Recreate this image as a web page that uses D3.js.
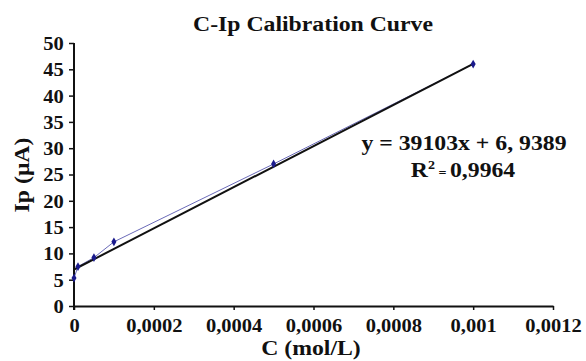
<!DOCTYPE html>
<html>
<head>
<meta charset="utf-8">
<script src="https://cdn.jsdelivr.net/npm/d3@7"></script>
<style>
  html, body { margin: 0; padding: 0; background: #fff; }
  svg { display: block; }
  text { font-family: "Liberation Serif", "Times New Roman", serif; font-weight: bold; fill: #111; }
</style>
</head>
<body>
<svg id="chart" width="586" height="361"></svg>
<script>
// Measured concentrations (mol/L) and peak currents (µA)
const concentrations = [0, 0.00001, 0.00005, 0.0001, 0.0005, 0.001];
const currents = [5.3, 7.5, 9.2, 12.2, 27.0, 46.0];

// Linear fit reported on the chart
const slope = 39103;
const intercept = 6.9389;
const fitRange = [0, 0.001];

const xTicks = [0, 0.0002, 0.0004, 0.0006, 0.0008, 0.001, 0.0012];
const xTickLabels = ["0", "0,0002", "0,0004", "0,0006", "0,0008", "0,001", "0,0012"];
const yTicks = [0, 5, 10, 15, 20, 25, 30, 35, 40, 45, 50];

const title = "C-Ip Calibration Curve";
const xTitle = "C (mol/L)";
const yTitle = "Ip (μA)";
const equationText = "y = 39103x + 6, 9389";
const r2Value = "0,9964";

const svg = d3.select("#chart");
const stretch = 1.08; // labels in this figure are set slightly wide
const tickFont = 19;
const labelFont = 22;

const x = d3.scaleLinear().domain([0, 0.0012]).range([74, 553]);
const y = d3.scaleLinear().domain([0, 50]).range([306, 43]);

// Axes
const xAxis = d3.axisBottom(x)
  .tickValues(xTicks)
  .tickFormat((d, i) => xTickLabels[i])
  .tickSizeInner(4).tickSizeOuter(0).tickPadding(8.5);
const yAxis = d3.axisLeft(y)
  .tickValues(yTicks)
  .tickSizeInner(5).tickSizeOuter(0).tickPadding(4.5);

const gx = svg.append("g").attr("transform", `translate(0,${y(0)})`).call(xAxis);
const gy = svg.append("g").attr("transform", `translate(${x(0)},0)`).call(yAxis);

[gx, gy].forEach(g => {
  g.select(".domain").attr("stroke", "#111").attr("stroke-width", 2);
  g.selectAll(".tick line").attr("stroke", "#111").attr("stroke-width", 1.5);
  g.selectAll(".tick text")
    .attr("font-family", "Liberation Serif, Times New Roman, serif")
    .attr("font-weight", "bold")
    .attr("font-size", tickFont)
    .attr("fill", "#111");
});
gx.selectAll(".tick text").attr("transform", `scale(${stretch},1)`);
gy.selectAll(".tick text").attr("transform", `scale(${stretch},1)`).attr("dy", "0.34em");
// extend y axis slightly below the x axis
gy.select(".domain").attr("d", `M0,${y(50)}V${y(0) + 4}`);

// Data connector line
const line = d3.line().x((d, i) => x(concentrations[i])).y(d => y(d));
svg.append("path")
  .datum(currents)
  .attr("d", line)
  .attr("fill", "none")
  .attr("stroke", "#6a6ab8")
  .attr("stroke-width", 1);

// Regression trend line
svg.append("line")
  .attr("x1", x(fitRange[0])).attr("y1", y(slope * fitRange[0] + intercept))
  .attr("x2", x(fitRange[1])).attr("y2", y(slope * fitRange[1] + intercept))
  .attr("stroke", "#111").attr("stroke-width", 2);

// Markers (small diamonds)
svg.append("g").selectAll("path")
  .data(currents)
  .join("path")
  .attr("transform", (d, i) => `translate(${x(concentrations[i])},${y(d)})`)
  .attr("d", d3.symbol(d3.symbolDiamond, 22))
  .attr("fill", "#1a1a8c");

// Text helper: stretched text placed at (tx, ty)
function label(txt, tx, ty, size, anchor, rotate) {
  const g = svg.append("g")
    .attr("transform", `translate(${tx},${ty})${rotate ? ` rotate(${rotate})` : ""} scale(${stretch},1)`);
  return g.append("text")
    .attr("text-anchor", anchor || "middle")
    .attr("font-size", size)
    .text(txt);
}

label(title, 313, 31, labelFont);
label(xTitle, 311, 355, labelFont);
label(yTitle, 29, 175, labelFont, "middle", -90);
label(equationText, 464, 150, labelFont);

const r2 = svg.append("g").attr("transform", `translate(463,177) scale(${stretch},1)`)
  .append("text").attr("text-anchor", "middle").attr("font-size", labelFont);
r2.append("tspan").text("R");
r2.append("tspan").attr("font-size", 13).attr("dy", -8).text("2");
r2.append("tspan").attr("font-size", 13).attr("dy", 8).text(" = ");
r2.append("tspan").text(r2Value);
</script>
</body>
</html>
